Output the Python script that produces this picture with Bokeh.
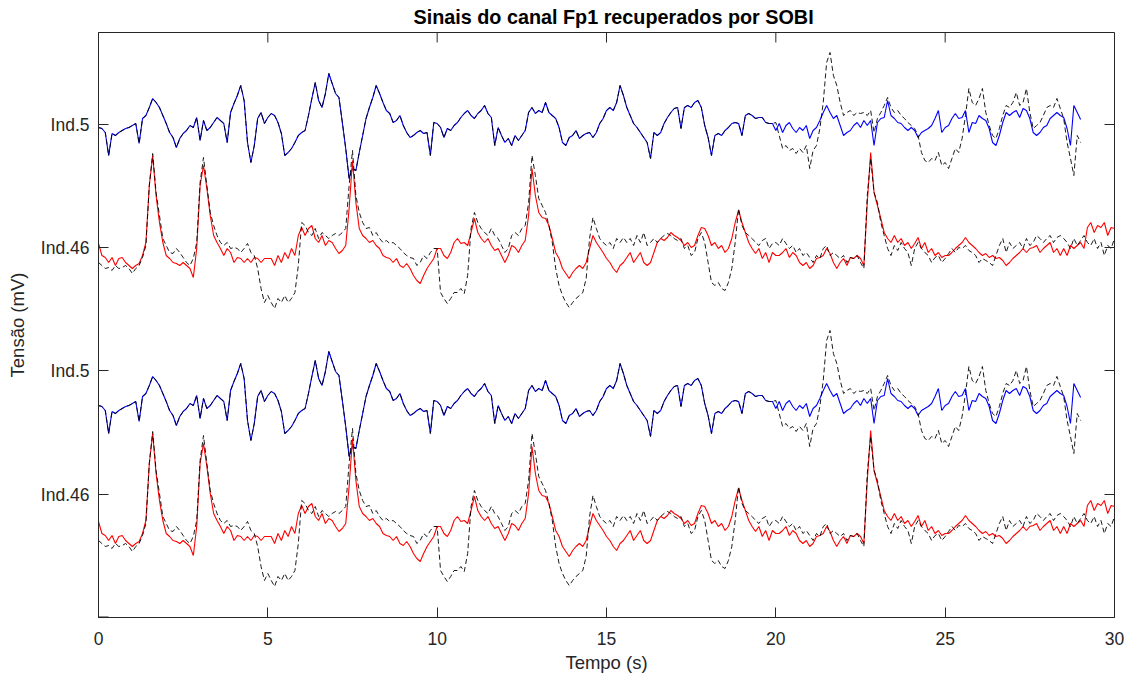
import numpy as np
from bokeh.plotting import figure
from bokeh.models import Range1d, FixedTicker
from bokeh.embed import file_html
from bokeh.resources import INLINE

# ---------------- text ----------------
title_text = "Sinais do canal Fp1 recuperados por SOBI"
x_label = "Tempo (s)"
y_label = "Tensão (mV)"
x_ticks = [0, 5, 10, 15, 20, 25, 30]
y_tick_pos = [123, 247, 370, 493]
y_tick_labels = ["Ind.46", "Ind.5", "Ind.46", "Ind.5"]
y_bottom_tick = 0

# ---------------- data (sampled every 0.1 s) ----------------
dt = 0.1
# Ind.5 recovered by SOBI (blue), 0.0 .. 29.0 s
ind5_sobi = [
    -2, -3, -7, -30, -8, -10, -7, -5, -3, -2,
    0, 2, -18, 7, 10, 18, 27, 23, 18, 10,
    2, -7, -12, -22, -13, -8, -5, 0, -2, 8,
    -15, 5, -5, -2, 3, 8, 5, 2, -17, 13,
    22, 30, 40, 25, -17, -37, -20, 7, 13, 2,
    8, 12, 10, 3, -8, -30, -27, -23, -17, -10,
    -7, -5, 10, 27, 43, 25, 18, 32, 52, 42,
    32, 28, 3, -23, -53, -43, -45, -27, -10, 7,
    18, 28, 40, 32, 23, 15, 12, 3, 5, 10,
    0, -7, -12, -10, -7, -5, -8, -7, -30, 3,
    2, -2, -12, -3, -5, 0, 3, 8, 12, 15,
    10, 7, 12, 15, 20, 12, 8, -20, -2, -10,
    -17, -13, -20, -10, -15, -10, -5, 13, 18, 12,
    15, 13, 23, 13, 10, 7, -2, -17, -20, -12,
    -10, -5, -13, -10, -8, -7, -12, -7, 2, 7,
    15, 18, 15, 23, 40, 30, 18, 10, 2, -2,
    -7, -12, -17, -33, -7, -10, -7, 2, 8, 13,
    17, 18, -3, 18, 20, 18, 23, 25, 18, 0,
    -12, -30, -10, -8, -10, -5, -2, 2, 3, 2,
    -10, 10, 12, 10, 7, 8, 8, 3, 2, 2,
    -5, 2, -7, 0, 3, -3, -7, -2, -5, 0,
    -13, -5, -2, 5, 13, 20, 13, 7, 10, 0,
    -10, -7, -5, 0, 3, -2, 5, 0, 5, -20,
    3, 7, 8, 25, 10, 7, 3, 2, -2, -5,
    -2, -5, -12, -7, -5, -3, 0, 7, 15, -7,
    -2, 0, 7, 12, 7, 8, 15, -7, 3, 2,
    10, 7, 5, -3, -17, -20, -10, 3, 13, 10,
    13, 15, 8, 17, 15, 7, -7, -10, -7, -2,
    0, 7, 10, 13, 10, 8, -3, -20, 20, 13,
    6,
]
# Ind.5 original (black dashed): follows the SOBI signal up to 20 s
ind5_orig = ind5_sobi[:200] + [
    3, -10, -23, -20, -25, -23, -28, -23, -27, -20,
    -43, -25, -20, -3, 23, 63, 73, 50, 40, 23,
    10, 13, 15, 10, 13, 12, 13, 10, 15, -7,
    7, 13, 20, 28, 18, 13, 15, 10, 7, 3,
    0, -3, -10, -27, -35, -37, -33, -35, -27, -40,
    -37, -43, -33, -23, -27, -13, 10, 37, 23, 20,
    27, 37, 13, 0, -10, -13, -3, 10, 20, 18,
    23, 33, 20, 23, 37, 13, -3, 0, 3, 10,
    18, 20, 18, 27, 17, 7, -17, -33, -50, -10,
    -17,
]
# Ind.46 recovered by SOBI (red), 0.0 .. 30.0 s
ind46_sobi = [
    5, -7, -9, -14, -9, -17, -10, -9, -14, -17,
    -20, -17, -15, -7, 6, 63, 93, 53, 26, 6,
    -7, -10, -14, -15, -17, -14, -17, -20, -29, 0,
    63, 83, 60, 33, 13, 6, 0, -7, 0, -4,
    -14, -9, -10, -14, -10, -14, -9, -10, -14, -10,
    -10, -10, -17, -7, -14, -4, -10, 0, -7, 13,
    21, 13, 20, 23, 10, 6, 13, 3, 8, 6,
    0, -5, -2, 3, 40, 88, 46, 20, 13, 10,
    6, 8, 3, 0, -7, -9, -10, -14, -10, -17,
    -19, -15, -20, -27, -32, -35, -27, -20, -15, -10,
    0, 0, -7, -10, -4, 6, 10, 5, 6, 3,
    16, 30, 16, 10, 6, 10, 3, -2, 0, -7,
    -14, -7, 3, 1, -4, 3, 8, 33, 80, 53,
    36, 31, 30, 23, 10, -4, -10, -20, -25, -30,
    -24, -20, -17, -20, -14, 0, 13, 6, 1, -4,
    -10, -14, -20, -24, -17, -14, -9, -4, -14, -9,
    -4, -14, -17, -14, -4, 6, 10, 8, 11, 16,
    13, 11, 8, 3, 6, 1, 3, 13, 21, 20,
    13, 3, 6, 0, 3, -4, 0, 10, 26, 38,
    26, 16, 6, 0, -5, 0, -10, -4, -14, -4,
    -7, -7, -4, 0, -9, -4, -7, -14, -17, -14,
    -20, -17, -10, -9, -7, 0, -5, -14, -20, -14,
    -10, -17, -9, -10, -7, -10, -17, 46, 96, 56,
    43, 30, 16, 10, 6, 13, 6, 10, 3, 6,
    0, 5, 11, 0, 6, -4, 0, -7, -4, -9,
    -7, -7, -4, 0, 3, 6, 11, 6, 3, 0,
    -4, -7, -5, -9, -7, -10, -9, -12, -17, -14,
    -10, -7, -4, 0, -4, 0, 1, 3, -4, 0,
    3, 6, -4, 0, -7, 0, -7, 3, 0, 3,
    6, 0, 21, 26, 16, 23, 21, 26, 13, 21,
    20,
]
# Ind.46 original (black dashed), 0.0 .. 30.0 s
ind46_orig = [
    -14, -17, -20, -19, -22, -17, -20, -19, -17, -20,
    -25, -20, -17, -9, 3, 63, 95, 56, 33, 10,
    3, -4, -5, 0, -4, -9, -14, -17, -10, 6,
    66, 91, 63, 36, 23, 13, 6, 3, 6, 0,
    1, 0, -4, 0, 5, -4, -7, -20, -40, -54,
    -47, -54, -60, -50, -54, -47, -54, -50, -44, -17,
    26, 23, 16, 13, 20, 10, 16, 13, 10, 13,
    15, 13, 16, 20, 63, 98, 53, 36, 26, 20,
    21, 13, 16, 10, 6, 8, 5, 6, 3, 0,
    -4, -7, -9, -10, -17, -14, -7, -10, -4, 0,
    0, -44, -50, -55, -50, -44, -44, -40, -45, -27,
    20, 36, 26, 20, 16, 13, 20, 13, 10, 3,
    -4, 0, 13, 16, 13, 20, 23, 46, 93, 73,
    50, 43, 36, 23, 6, -20, -37, -47, -54, -59,
    -54, -50, -47, -44, -30, 10, 31, 20, 10, 6,
    3, 6, 0, 10, 6, 11, 6, 10, 3, 13,
    6, 16, 3, 6, 10, 6, 10, 13, 15, 13,
    10, 8, 10, 0, 3, -7, -4, 10, 16, 6,
    -14, -34, -37, -34, -40, -42, -34, -20, 6, 40,
    23, 16, 13, 10, 6, 3, 8, 10, 0, 5,
    6, 3, 10, 5, 0, 3, -4, 0, -7, -4,
    -9, -14, -7, -10, 0, 3, -7, -4, -7, -10,
    -7, -14, -9, -10, -7, -14, -20, 53, 90, 56,
    46, 26, 13, 0, -7, 3, -2, 6, 0, -4,
    -17, 0, 6, 0, -4, -7, -14, -9, -7, -14,
    -10, -5, 0, -4, 1, 0, 3, -2, -4, -7,
    -14, -10, -12, -14, -17, -7, 3, 10, -4, 6,
    0, 3, 6, 0, 10, 3, 6, 13, 10, 6,
    10, 13, 6, 11, 13, 10, 6, 0, 10, 3,
    8, 13, 6, 3, 10, 0, 6, -7, 3, 0,
    10,
]

# stacking baselines of the two displayed copies (top, bottom)
base_ind5 = [492, 214]
base_ind46 = [369, 91]

t5 = np.round(np.arange(len(ind5_sobi)) * dt, 2)
t5o = np.round(np.arange(len(ind5_orig)) * dt, 2)
t46 = np.round(np.arange(len(ind46_sobi)) * dt, 2)
t46o = np.round(np.arange(len(ind46_orig)) * dt, 2)

AX = "#262626"
FONT = "Liberation Sans"
X0, X1, Y0, Y1 = 0, 30, 0, 585
FRAME_W, FRAME_H = 1016, 585
TICK_PX = 10

p = figure(frame_width=FRAME_W, frame_height=FRAME_H,
           x_range=Range1d(X0, X1), y_range=Range1d(Y0, Y1),
           output_backend="svg", toolbar_location=None,
           min_border_left=98, min_border_right=18,
           min_border_top=32, min_border_bottom=67,
           background_fill_color="white", border_fill_color="white")

p.title.text = title_text
p.title.align = "left"
p.title.offset = 315
p.title.text_font = FONT
p.title.text_font_size = "19.8px"
p.title.text_font_style = "bold"
p.title.text_color = "black"
p.title.vertical_align = "top"
p.title.standoff = 5

p.grid.visible = False
p.outline_line_color = AX
p.outline_line_width = 1

for i in range(2):
    p.line(t5, np.array(ind5_sobi) + base_ind5[i], line_color="#0000FF", line_width=1.1)
    p.line(t5o, np.array(ind5_orig) + base_ind5[i], line_color="black", line_width=0.9,
           line_dash="5 3")
    p.line(t46, np.array(ind46_sobi) + base_ind46[i], line_color="#FF0000", line_width=1.1)
    p.line(t46o, np.array(ind46_orig) + base_ind46[i], line_color="black", line_width=0.9,
           line_dash="5 3")

# mirrored inward ticks on the top and right edges of the box (MATLAB "box on"),
# tick length converted from pixels into data units
dx_tick = TICK_PX * (X1 - X0) / FRAME_W
dy_tick = TICK_PX * (Y1 - Y0) / FRAME_H
p.segment(x0=x_ticks, y0=[Y1] * len(x_ticks), x1=x_ticks, y1=[Y1 - dy_tick] * len(x_ticks),
          line_color=AX, line_width=1)
right_ticks = [y_bottom_tick] + y_tick_pos
p.segment(x0=[X1] * len(right_ticks), y0=right_ticks,
          x1=[X1 - dx_tick] * len(right_ticks), y1=right_ticks,
          line_color=AX, line_width=1)
p.segment(x0=[X0], y0=[y_bottom_tick], x1=[X0 + dx_tick], y1=[y_bottom_tick],
          line_color=AX, line_width=2)


def style_axis(ax):
    ax.axis_line_color = AX
    ax.major_tick_line_color = AX
    ax.major_tick_in = TICK_PX
    ax.major_tick_out = 0
    ax.minor_tick_in = 0
    ax.minor_tick_out = 0
    ax.major_label_text_font = FONT
    ax.major_label_text_color = AX
    ax.major_label_text_font_size = "17.5px"


xa = p.xaxis[0]
xa.ticker = FixedTicker(ticks=x_ticks)
style_axis(xa)
xa.major_label_standoff = 14
xa.axis_label = x_label
xa.axis_label_text_font = FONT
xa.axis_label_text_font_size = "18.5px"
xa.axis_label_text_font_style = "normal"
xa.axis_label_text_color = AX
xa.axis_label_standoff = 4

ya = p.yaxis[0]
ya.ticker = FixedTicker(ticks=y_tick_pos)
ya.major_label_overrides = {tp: lab for tp, lab in zip(y_tick_pos, y_tick_labels)}
style_axis(ya)
ya.major_label_standoff = 9
ya.axis_label = y_label
ya.axis_label_text_font = FONT
ya.axis_label_text_font_size = "18.5px"
ya.axis_label_text_font_style = "normal"
ya.axis_label_text_color = AX
ya.axis_label_standoff = 10

open("out.html", "w").write(file_html(p, INLINE))
